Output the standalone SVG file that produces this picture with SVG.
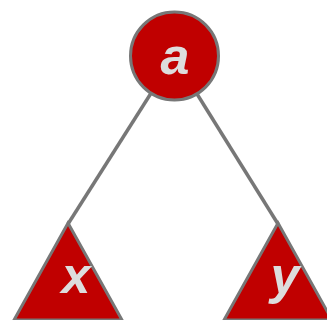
<svg xmlns="http://www.w3.org/2000/svg" width="327" height="320" viewBox="0 0 327 320">
<style>
.n{fill:#c00000;stroke:#777;stroke-width:3}
.e{stroke:#777;stroke-width:3.5;fill:none}
.t{font-family:"Liberation Sans",Arial,sans-serif;font-style:italic;font-weight:bold;font-size:52px;fill:#ddd;text-anchor:middle}
</style>
<rect width="327" height="320" fill="#fff"/>
<g id="edges">
<line class="e" x1="174" y1="57" x2="68" y2="224"/>
<line class="e" x1="174" y1="57" x2="278" y2="224"/>
</g>
<g id="a">
<circle class="n" cx="174.5" cy="56" r="44"/>
<text class="t" x="175" y="74">a</text>
</g>
<g id="x">
<polygon class="n" points="68,223 122,320 14,320"/>
<text class="t" x="76" y="293">x</text>
</g>
<g id="y">
<polygon class="n" points="278,223 332,320 224,320"/>
<text class="t" x="285" y="293">y</text>
</g>
</svg>
